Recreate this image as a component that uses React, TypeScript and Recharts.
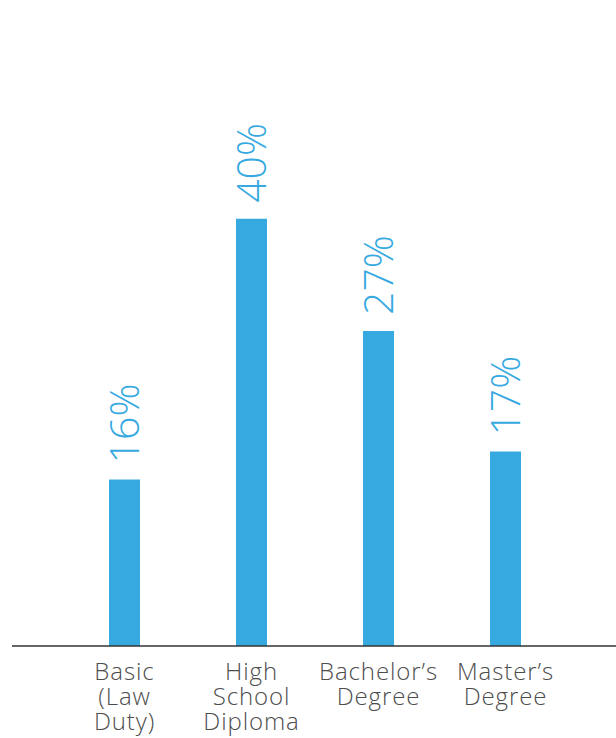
import { BarChart, Bar, XAxis, YAxis, LabelList } from "recharts"

const categories = ["Basic\n(Law\nDuty)", "High\nSchool\nDiploma", "Bachelor\u2019s\nDegree", "Master\u2019s\nDegree"]
// bar lengths as drawn in the picture
const barValues = [15.6, 40, 29.5, 18.2]
// labels printed above the bars
const valueLabels = ["16%", "40%", "27%", "17%"]

const data = categories.map((name, i) => ({ name, value: barValues[i], label: valueLabels[i] }))

const BLUE = "#36a9e1"
const FONT = "'Open Sans', sans-serif"

function CategoryTick(props: any) {
    const { x, y, payload } = props
    const lines = String(payload.value).split("\n")
    return (
        <text
            x={x}
            y={y}
            textAnchor="middle"
            fill="#4d4d4d"
            fontSize={24}
            letterSpacing={0.9}
            fontFamily={FONT}
            fontWeight={300}
        >
            {lines.map((line, i) => (
                <tspan key={i} x={x} dy={i === 0 ? 26 : 25}>
                    {line}
                </tspan>
            ))}
        </text>
    )
}

function ValueLabel(props: any) {
    const { x, y, width, value } = props
    const cx = x + width / 2 + 15
    const cy = y - 16
    return (
        <text
            x={cx}
            y={cy}
            transform={`rotate(-90 ${cx} ${cy})`}
            textAnchor="start"
            fill={BLUE}
            fontSize={41}
            fontFamily={FONT}
            fontWeight={300}
        >
            {value}
        </text>
    )
}

export default function App() {
    return (
        <div style={{ position: "absolute", left: 0, top: 0, width: 616, height: 738, background: "#fff" }}>
            <BarChart
                width={616}
                height={738}
                data={data}
                margin={{ top: 112, right: 0, left: 12, bottom: 0 }}
            >
                <XAxis
                    dataKey="name"
                    height={92}
                    tickLine={false}
                    axisLine={{ stroke: "#333", strokeWidth: 1.5 }}
                    tick={<CategoryTick />}
                    padding={{ left: 49, right: 47 }}
                    interval={0}
                />
                <YAxis hide domain={[0, 50]} />
                <Bar dataKey="value" fill={BLUE} barSize={31} isAnimationActive={false}>
                    <LabelList dataKey="label" content={<ValueLabel />} />
                </Bar>
            </BarChart>
        </div>
    )
}
